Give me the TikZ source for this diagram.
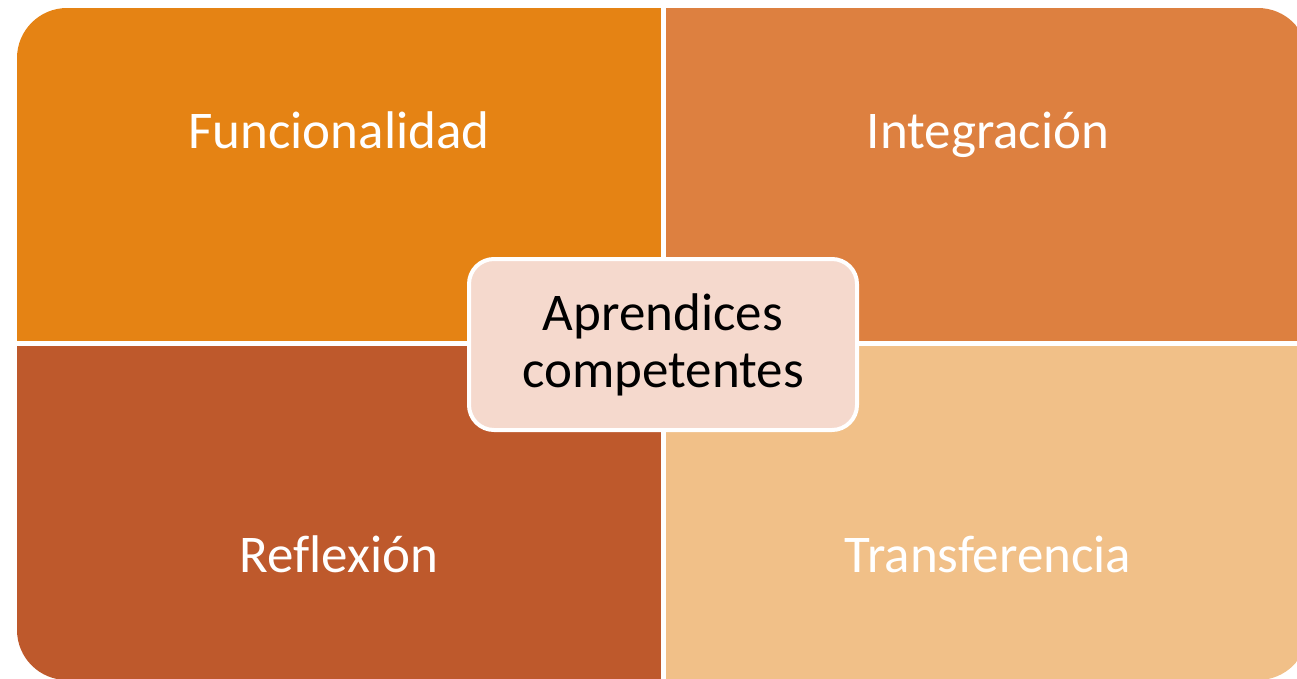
\documentclass[tikz,border=0pt]{standalone}
\usepackage{fontspec}
\setmainfont{Carlito}[Ligatures=NoCommon]
\usepackage{xcolor}
\usepackage{tikz}

\definecolor{funcOrange}{HTML}{E58314}
\definecolor{integOrange}{HTML}{DD8040}
\definecolor{reflBrown}{HTML}{BE592C}
\definecolor{transPeach}{HTML}{F1C088}
\definecolor{centerPink}{HTML}{F5D9CD}

\begin{document}
\begin{tikzpicture}[x=1pt,y=-1pt,%
% common options for the quadrant labels:
label/.style = {anchor=base, text=white, inner sep=0,
            font=\fontsize{53}{57}\selectfont},
% common options for the centre box:
hub/.style = {draw=white, line width=4pt, fill=centerPink, rounded corners=25pt,
            align=center, text=black, minimum width=388pt, minimum height=171pt,
            font=\fontsize{53}{57}\selectfont}]
\useasboundingbox (0,0) rectangle (1297,678);
\begin{scope}
\clip[rounded corners=50pt] (17,8) rectangle (1308,680);
\fill[funcOrange] (17,8) rectangle (661,341);
\fill[integOrange] (666,8) rectangle (1308,341);
\fill[reflBrown] (17,346) rectangle (661,680);
\fill[transPeach] (666,346) rectangle (1308,680);
\end{scope}
\node[label] (L1) at (339,148) {Funcionalidad};
\node[label] (L2) at (988,148) {Integración};
\node[label] (L3) at (339,572) {Reflexión};
\node[label] (L4) at (988,572) {Transferencia};
\node[hub] (C) at (663,344.5) {Aprendices\\competentes};
\end{tikzpicture}
\end{document}
